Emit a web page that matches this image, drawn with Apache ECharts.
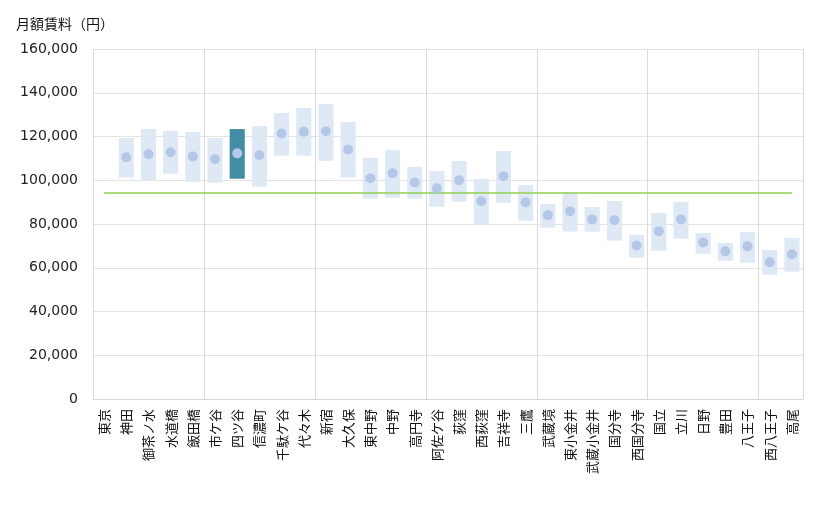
<!DOCTYPE html>
<html><head><meta charset="utf-8">
<script src="https://cdn.jsdelivr.net/npm/echarts@6/dist/echarts.min.js"></script>
<style>html,body{margin:0;padding:0;background:#fff}#c{width:820px;height:510px}</style>
</head><body><div id="c"></div>
<script>
const categories = ['東京','神田','御茶ノ水','水道橋','飯田橋','市ケ谷','四ツ谷','信濃町','千駄ケ谷','代々木','新宿','大久保','東中野','中野','高円寺','阿佐ケ谷','荻窪','西荻窪','吉祥寺','三鷹','武蔵境','東小金井','武蔵小金井','国分寺','西国分寺','国立','立川','日野','豊田','八王子','西八王子','高尾'];
const lows  = [null,101200,100000,103000,99300,98900,100700,97100,111200,111200,108900,101200,91600,92000,91600,87900,90200,79800,89700,81500,78300,76500,76500,72400,64600,67800,73300,66400,63200,62300,56800,58200];
const highs = [null,119300,123400,122500,122100,119300,123400,124800,130700,133000,134900,126600,110200,113800,106100,104200,108800,100600,113400,97800,89100,94300,87800,90500,75000,85000,90100,75900,71300,76300,68100,73600];
const means = [null,110500,111900,112800,110900,109600,112300,111400,121400,122200,122400,114100,100900,103200,99000,96300,100000,90400,101800,89900,84000,85800,82100,81700,70200,76700,82100,71600,67500,69800,62500,66200];
const average = 94500;
const highlight = '四ツ谷';
const yTicks = [0,20000,40000,60000,80000,100000,120000,140000,160000];

const font = '"Noto Sans CJK JP", "Noto Sans", sans-serif';
const chart = echarts.init(document.getElementById('c'));
chart.setOption({
  animation: false,
  textStyle: { fontFamily: font },
  title: { text: '月額賃料（円）', left: 11, top: 12, textStyle: { fontSize: 14, fontWeight: 'normal', color: '#111', fontFamily: font } },
  grid: { left: 93, right: 17, top: 49, bottom: 111, containLabel: false },
  xAxis: {
    type: 'category', data: categories, boundaryGap: true,
    axisLine: { show: true, lineStyle: { color: '#d9d9d9' } },
    axisTick: { show: false },
    splitLine: { show: true, interval: (i) => i % 5 === 0, lineStyle: { color: '#d9d9d9' } },
    axisLabel: { rotate: 90, interval: 0, fontSize: 13, color: '#111', margin: 10, fontFamily: font }
  },
  yAxis: {
    type: 'value', min: yTicks[0], max: yTicks[yTicks.length - 1], interval: 20000,
    axisLine: { show: false }, axisTick: { show: false },
    splitLine: { lineStyle: { color: '#e3e3e3' } },
    axisLabel: { fontSize: 14, color: '#222', margin: 15, fontFamily: '"DejaVu Sans", sans-serif',
      formatter: (v) => v.toLocaleString('en-US') }
  },
  series: [
    { type: 'bar', stack: 'r', silent: true, barWidth: '68%',
      itemStyle: { color: 'transparent' }, data: lows },
    { type: 'bar', stack: 'r', barWidth: '68%',
      data: highs.map((h, i) => h == null ? null : {
        value: h - lows[i],
        itemStyle: { color: categories[i] === highlight ? '#428ca5' : '#dee9f5' }
      }),
      markLine: {
        silent: true, symbol: 'none', label: { show: false },
        lineStyle: { color: '#92d050', width: 1.5, type: 'solid' },
        data: [[{ coord: [0, average] }, { coord: [categories.length - 1, average] }]]
      }
    },
    { type: 'scatter', data: means, symbolSize: 10, itemStyle: { color: '#b4c7e7', opacity: 1 }, z: 5 }
  ]
});
</script></body></html>
